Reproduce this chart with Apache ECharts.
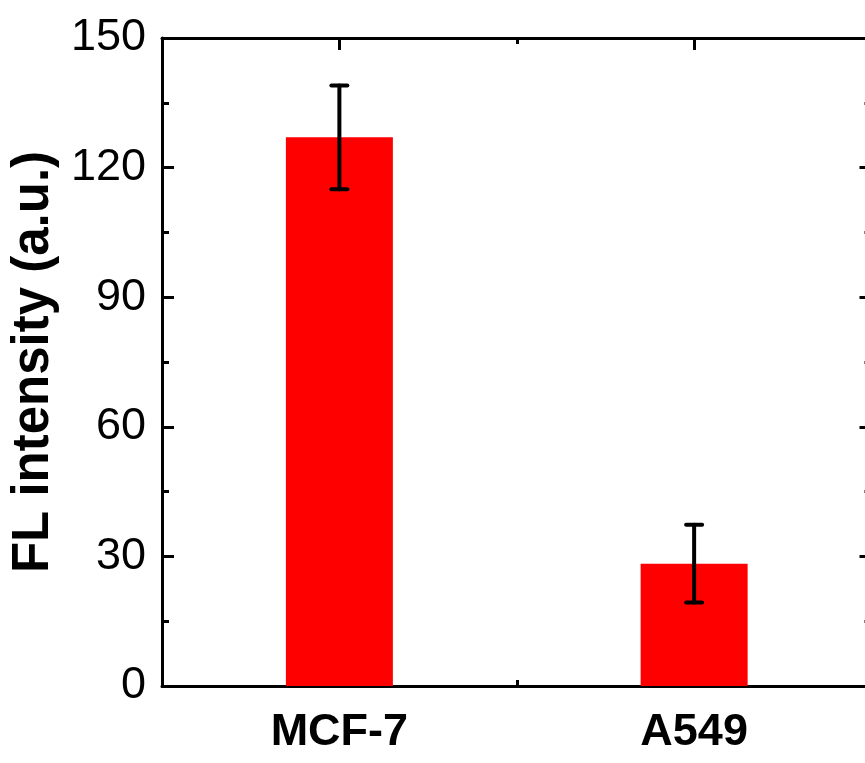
<!DOCTYPE html>
<html>
<head>
<meta charset="utf-8">
<script src="https://cdn.jsdelivr.net/npm/echarts@6/dist/echarts.min.js"></script>
<style>
  html, body { margin: 0; padding: 0; background: #fff; }
  #chart { width: 865px; height: 763px; }
</style>
</head>
<body>
<div id="chart"></div>
<script>
// Cell lines and their mean fluorescence intensity with standard deviation
const categories = ['MCF-7', 'A549'];
const means = [127, 28.3];
const errors = [12, 9];

// Y axis scale
const yMin = 0;
const yMax = 150;
const yInterval = 30;

const FONT = '"Liberation Sans", Arial, Helvetica, sans-serif';

const chart = echarts.init(document.getElementById('chart'), null, { renderer: 'canvas' });

const errorData = categories.map((c, i) => [i, means[i] - errors[i], means[i] + errors[i]]);

function renderError(params, api) {
  const x = api.value(0);
  const lo = api.coord([x, api.value(1)]);
  const hi = api.coord([x, api.value(2)]);
  const half = 8;
  const style = { stroke: '#000', lineWidth: 4, lineCap: 'round' };
  return {
    type: 'group',
    children: [
      { type: 'line', shape: { x1: hi[0], y1: hi[1], x2: lo[0], y2: lo[1] }, style: style },
      { type: 'line', shape: { x1: hi[0] - half, y1: hi[1], x2: hi[0] + half, y2: hi[1] }, style: style },
      { type: 'line', shape: { x1: lo[0] - half, y1: lo[1], x2: lo[0] + half, y2: lo[1] }, style: style }
    ]
  };
}

function catAxis(position, aligned, len, showLine, showLabel) {
  return {
    type: 'category',
    data: categories,
    position: position,
    boundaryGap: true,
    axisLine: { show: showLine, onZero: false, lineStyle: { color: '#000', width: 3 } },
    axisTick: { show: true, inside: true, alignWithLabel: aligned, length: len, lineStyle: { color: '#000', width: 3 } },
    axisLabel: {
      show: showLabel,
      color: '#000',
      fontFamily: FONT,
      fontWeight: 'bold',
      fontSize: 45,
      margin: 24
    },
    splitLine: { show: false }
  };
}

function valAxis(position, showLabel) {
  return {
    type: 'value',
    position: position,
    min: yMin,
    max: yMax,
    interval: yInterval,
    name: showLabel ? 'FL intensity (a.u.)' : '',
    nameLocation: 'middle',
    nameGap: 103,
    nameTextStyle: { color: '#000', fontFamily: FONT, fontWeight: 'bold', fontSize: 51 },
    axisLine: { show: true, lineStyle: { color: '#000', width: 3 } },
    axisTick: { show: true, inside: true, length: 12, lineStyle: { color: '#000', width: 3 } },
    minorTick: { show: true, splitNumber: 2, length: 7, lineStyle: { color: '#000', width: 3 } },
    axisLabel: { show: showLabel, color: '#000', fontFamily: FONT, fontSize: 45, margin: 16 },
    splitLine: { show: false },
    minorSplitLine: { show: false }
  };
}

chart.setOption({
  animation: false,
  backgroundColor: '#fff',
  grid: { left: 162, right: -6.5, top: 38, bottom: 77, containLabel: false, outerBoundsMode: 'none' },
  xAxis: [
    catAxis('bottom', true, 12, true, true),
    catAxis('bottom', false, 6, false, false),
    catAxis('top', true, 12, true, false),
    catAxis('top', false, 6, false, false)
  ],
  yAxis: [valAxis('left', true), valAxis('right', false)],
  series: [
    {
      type: 'bar',
      data: means,
      barWidth: 107,
      itemStyle: { color: '#ff0000' },
      xAxisIndex: 0,
      yAxisIndex: 0,
      z: 1
    },
    {
      type: 'custom',
      data: errorData,
      renderItem: renderError,
      xAxisIndex: 0,
      yAxisIndex: 0,
      z: 5
    }
  ]
});
</script>
</body>
</html>
